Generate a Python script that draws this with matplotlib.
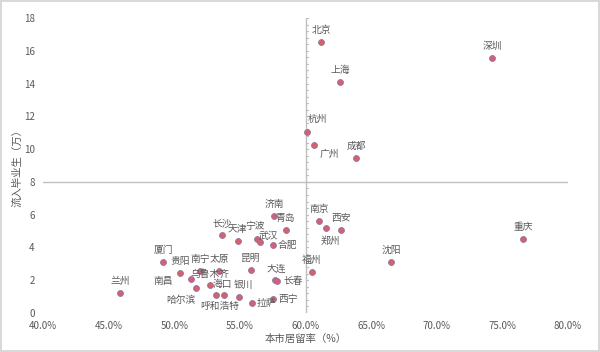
import matplotlib

matplotlib.use("Agg")
import matplotlib.pyplot as plt
import numpy as np

plt.rcParams["font.family"] = ["Noto Sans CJK SC", "DejaVu Sans"]

# data
cities = ["北京", "上海", "深圳", "杭州", "广州", "成都", "重庆", "沈阳",
          "南京", "郑州", "西安", "福州", "济南", "青岛", "长沙", "天津",
          "宁波", "武汉", "合肥", "昆明", "大连", "长春", "西宁", "拉萨",
          "银川", "呼和浩特", "哈尔滨", "海口", "南昌", "乌鲁木齐", "南宁",
          "太原", "贵阳", "厦门", "兰州"]
retention = [61.18, 62.63, 74.23, 60.14, 60.65, 63.87, 76.59, 66.51,
             61.03, 61.59, 62.68, 60.50, 57.60, 58.49, 53.66, 54.83,
             56.30, 56.56, 57.55, 55.85, 57.65, 57.85, 57.55, 55.95,
             54.96, 53.79, 53.18, 52.72, 51.63, 51.30, 51.96,
             53.43, 50.46, 49.17, 45.87]
inflow = [16.55, 14.11, 15.58, 11.03, 10.23, 9.48, 4.50, 3.11,
          5.61, 5.17, 5.05, 2.52, 5.92, 5.06, 4.76, 4.41,
          4.50, 4.33, 4.15, 2.62, 2.01, 1.95, 0.85, 0.63,
          0.96, 1.10, 1.10, 1.71, 1.54, 2.09, 2.58,
          2.58, 2.46, 3.13, 1.20]

x_ticks = [40, 45, 50, 55, 60, 65, 70, 75, 80]
y_ticks = [0, 2, 4, 6, 8, 10, 12, 14, 16, 18]

# label placement (pixel offsets), default is centred above the point
label_offsets = {
    "杭州": (10, 13), "广州": (15, -9), "郑州": (4, -13), "宁波": (-2, 13),
    "武汉": (8, 6), "合肥": (14, 0), "大连": (2, 11), "长春": (16, 0),
    "西宁": (15, 0), "拉萨": (14, 0), "呼和浩特": (-4, -11),
    "哈尔滨": (-35, -5), "海口": (12, 1), "银川": (4, 12), "南昌": (-32, 7),
    "乌鲁木齐": (19, 5),
}

grey = "#595959"
axis_grey = "#BFBFBF"

fig = plt.figure(figsize=(6, 3.52), dpi=100)
fig.patch.set_edgecolor("#D9D9D9")
fig.patch.set_linewidth(1.5)
ax = fig.add_axes([43 / 600, 1 - 313 / 352, 525 / 600, 295 / 352])

ax.scatter(retention, inflow, s=18, facecolor="#D8606A", edgecolor="#8E74A8",
           linewidth=0.6, zorder=3)

for name, x, y in zip(cities, retention, inflow):
    dx, dy = label_offsets.get(name, (0, 12))
    ax.annotate(name, (x, y), xytext=(dx, dy), textcoords="offset pixels",
                ha="center", va="center", fontsize=7, color=grey)

# axes crossing at 60% / 8
ax.axhline(8, color=axis_grey, lw=1, zorder=1)
ax.axvline(60, color=axis_grey, lw=1, zorder=1)
for yy in np.arange(0, 18.01, 0.4):
    ax.plot([60, 60.17], [yy, yy], color=axis_grey, lw=0.8, zorder=1)

ax.set_xlim(40, 80)
ax.set_ylim(0, 18)
ax.set_xticks(x_ticks)
ax.set_xticklabels([f"{v:.1f}%" for v in x_ticks])
ax.set_yticks(y_ticks)
ax.tick_params(length=0, labelsize=7, labelcolor=grey)
ax.tick_params(axis="x", pad=6)
ax.tick_params(axis="y", pad=6)
for s in ax.spines.values():
    s.set_visible(False)

ax.set_xlabel("本市居留率（%）", fontsize=7.5, color=grey, labelpad=2)
ax.set_ylabel("流入毕业生（万）", fontsize=7.5, color=grey, labelpad=1)

fig.savefig("out.png", dpi=100)
